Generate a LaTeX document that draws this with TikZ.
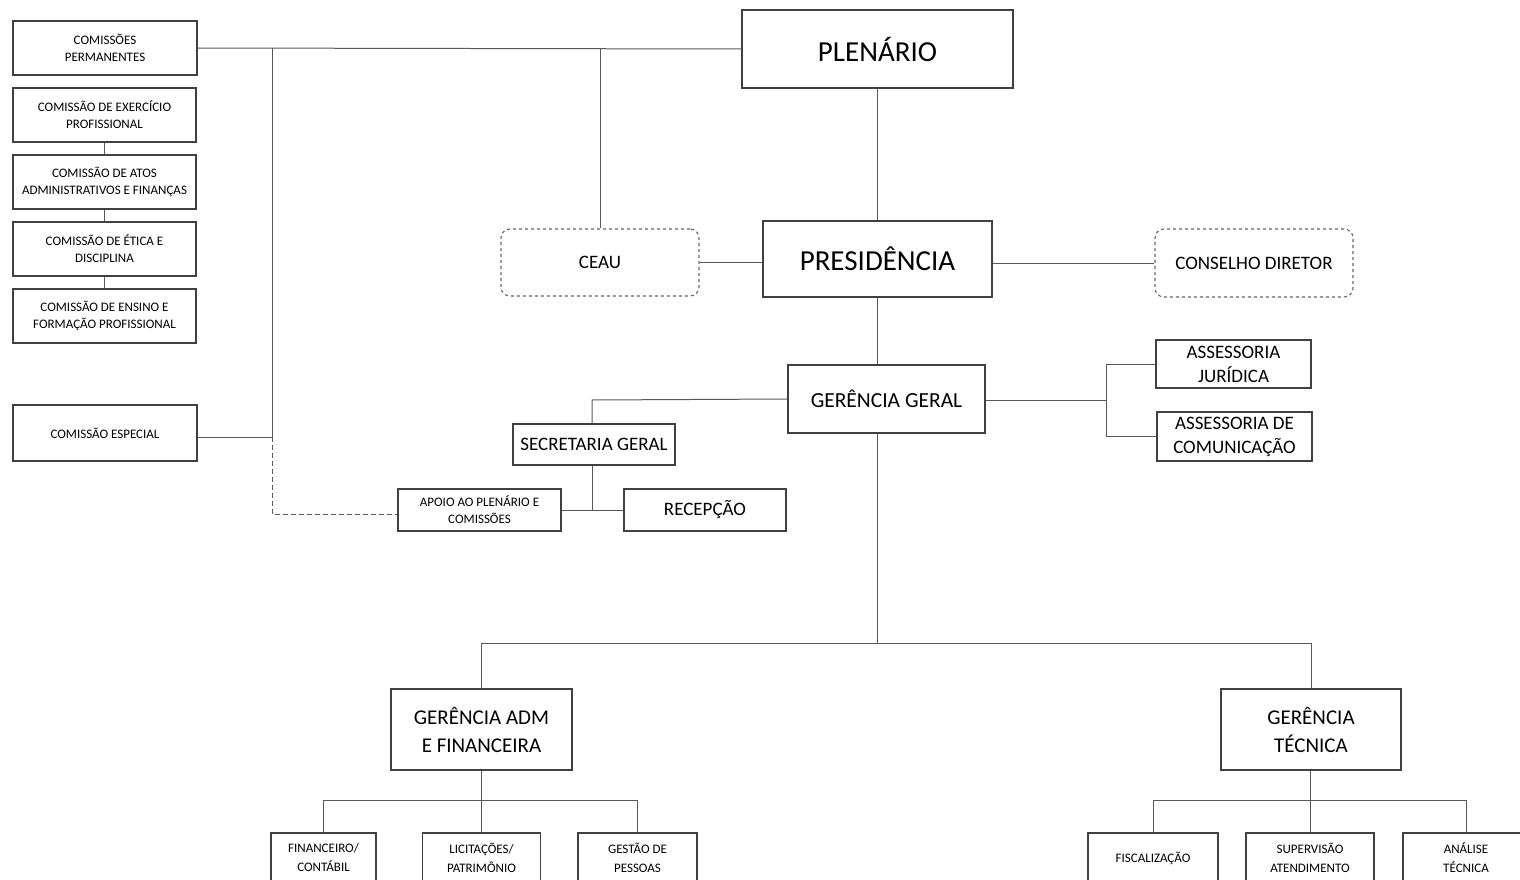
\documentclass[tikz,border=0pt]{standalone}
\usepackage{fontspec}
\setmainfont{Carlito}
\begin{document}
\begin{tikzpicture}[x=1pt,y=-1pt,
  box/.style={draw=black!75, line width=1.4pt, fill=white, inner sep=0pt, align=center, text=black},
  dbox/.style={draw=black!60, dashed, line width=1.1pt, rounded corners=9pt, inner sep=0pt, align=center},
  sm/.style={font=\fontsize{13}{17}\selectfont},
  bsm/.style={font=\fontsize{13}{19}\selectfont},
  md/.style={font=\fontsize{19}{24}\selectfont},
  mdg/.style={font=\fontsize{21.5}{28}\selectfont},
  mdl/.style={font=\fontsize{21}{28}\selectfont},
  lg/.style={font=\fontsize{29}{32}\selectfont},
  link/.style={draw=black!65, line width=1pt},
  dlink/.style={draw=black!65, line width=1pt, dash pattern=on 5pt off 3pt}]
\useasboundingbox (0,0) rectangle (1520,880);
\clip (0,0) rectangle (1520,880);

% left column
\node[box,sm,minimum width=184pt,minimum height=54pt] (cp) at (105,48) {COMISSÕES\\PERMANENTES};
\node[box,sm,minimum width=183pt,minimum height=54pt] (cep) at (104.5,115) {COMISSÃO DE EXERCÍCIO\\PROFISSIONAL};
\node[box,sm,minimum width=183pt,minimum height=54pt] (cat) at (104.5,182) {COMISSÃO DE ATOS\\ADMINISTRATIVOS E FINANÇAS};
\node[box,sm,minimum width=183pt,minimum height=54pt] (cet) at (104.5,249) {COMISSÃO DE ÉTICA E\\DISCIPLINA};
\node[box,sm,minimum width=183pt,minimum height=54pt] (cen) at (104.5,316) {COMISSÃO DE ENSINO E\\FORMAÇÃO PROFISSIONAL};
\node[box,sm,minimum width=184pt,minimum height=56pt] (ces) at (105,433) {COMISSÃO ESPECIAL};

% top
\node[box,lg,minimum width=271pt,minimum height=78pt] (plen) at (877.5,49) {\raisebox{-4pt}{PLENÁRIO}};
\node[box,lg,minimum width=229pt,minimum height=76pt] (pres) at (877.5,259) {\raisebox{-2pt}{PRESIDÊNCIA}};
\node[dbox,md,minimum width=198pt,minimum height=67pt] (ceau) at (600,262.5) {CEAU};
\node[dbox,md,minimum width=198pt,minimum height=68pt] (cons) at (1254,263) {\raisebox{-3pt}{CONSELHO DIRETOR}};

% middle
\node[box,mdg,minimum width=197pt,minimum height=68pt] (gg) at (886.5,399) {GERÊNCIA GERAL};
\node[box,md,minimum width=155pt,minimum height=48pt] (aj) at (1233.5,364) {ASSESSORIA\\JURÍDICA};
\node[box,md,minimum width=155pt,minimum height=49pt] (ac) at (1234.5,436.5) {ASSESSORIA DE\\COMUNICAÇÃO};
\node[box,md,minimum width=162pt,minimum height=41pt] (sg) at (594,444.5) {SECRETARIA GERAL};
\node[box,sm,minimum width=163pt,minimum height=42pt] (apoio) at (479.5,510) {APOIO AO PLENÁRIO E\\COMISSÕES};
\node[box,md,minimum width=162pt,minimum height=42pt] (rec) at (705,510) {RECEPÇÃO};

% managers
\node[box,mdl,minimum width=181pt,minimum height=81pt] (gadm) at (481.5,729.5) {GERÊNCIA ADM\\E FINANCEIRA};
\node[box,mdl,minimum width=180pt,minimum height=81pt] (gtec) at (1311,729.5) {GERÊNCIA\\TÉCNICA};

% bottom row
\node[box,bsm,minimum width=105pt,minimum height=50pt] (fin) at (323.5,858) {FINANCEIRO/\\CONTÁBIL};
\node[box,bsm,minimum width=118pt,minimum height=50pt] (lic) at (481.5,858) {LICITAÇÕES/\\PATRIMÔNIO};
\node[box,bsm,minimum width=119pt,minimum height=50pt] (ges) at (637.5,858) {GESTÃO DE\\PESSOAS};
\node[box,bsm,minimum width=130pt,minimum height=50pt] (fis) at (1153,858) {FISCALIZAÇÃO};
\node[box,bsm,minimum width=128pt,minimum height=50pt] (sup) at (1310,858) {SUPERVISÃO\\ATENDIMENTO};
\node[box,bsm,minimum width=126pt,minimum height=50pt] (ana) at (1466,858) {ANÁLISE\\TÉCNICA};

% junction coordinates
\coordinate (jtop) at (272,48);
\coordinate (jesp) at (272,437);
\coordinate (jdash) at (272,514);
\coordinate (jceau) at (600,48);
\coordinate (jass) at (1106,400);
\coordinate (jsg) at (592,400);
\coordinate (jgg) at (877.5,643);
\coordinate (jadm) at (481.5,800);
\coordinate (jtec) at (1310,800);

% left column links
\draw[link] (cp.east) -- (plen.west);
\draw[link] (cep.south) -- (cat.north);
\draw[link] (cat.south) -- (cet.north);
\draw[link] (cet.south) -- (cen.north);
\draw[link] (jtop) -- (jesp);
\draw[link] (ces.east |- jesp) -- (jesp);
\draw[dlink] (jesp) -- (jdash) -- (apoio.west |- jdash);
% plenario / presidency
\draw[link] (jceau) -- (ceau.north);
\draw[link] (plen.south) -- (pres.north);
\draw[link] (ceau.east) -- (ceau.east -| pres.west);
\draw[link] (pres.east |- cons.west) -- (cons.west);
\draw[link] (pres.south) -- (pres.south |- gg.north);
% assessorias
\draw[link] (gg.east |- jass) -- (jass);
\draw[link] (jass |- aj.west) -- (jass |- ac.west);
\draw[link] (jass |- aj.west) -- (aj.west);
\draw[link] (jass |- ac.west) -- (ac.west);
% secretaria
\draw[link] (gg.west) -- (jsg) -- (jsg |- sg.north);
\draw[link] (jsg |- sg.south) -- (jsg |- apoio.east);
\draw[link] (apoio.east) -- (rec.west);
% gerencias
\draw[link] (jgg |- gg.south) -- (jgg);
\draw[link] (gadm.north |- jgg) -- (gtec.north |- jgg);
\draw[link] (gadm.north |- jgg) -- (gadm.north);
\draw[link] (gtec.north |- jgg) -- (gtec.north);
% adm children
\draw[link] (lic.north |- gadm.south) -- (lic.north);
\draw[link] (fin.north |- jadm) -- (ges.north |- jadm);
\draw[link] (fin.north |- jadm) -- (fin.north);
\draw[link] (ges.north |- jadm) -- (ges.north);
% tec children
\draw[link] (sup.north |- gtec.south) -- (sup.north);
\draw[link] (fis.north |- jtec) -- (ana.north |- jtec);
\draw[link] (fis.north |- jtec) -- (fis.north);
\draw[link] (ana.north |- jtec) -- (ana.north);
\end{tikzpicture}
\end{document}
